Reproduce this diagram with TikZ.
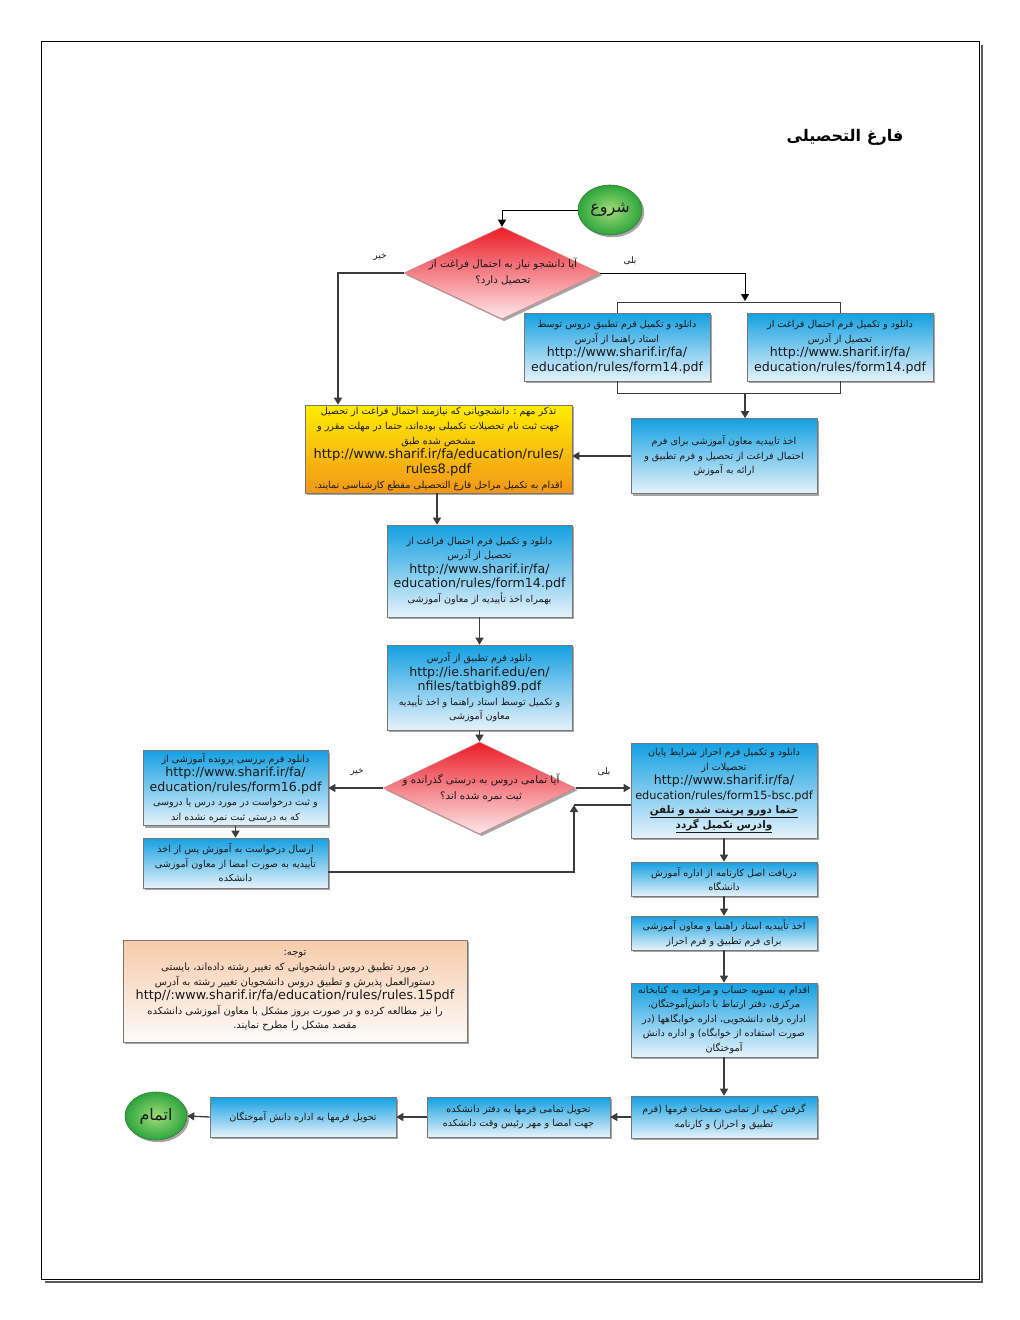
\documentclass[tikz,border=0pt]{standalone}
\usepackage{fontspec}
\setmainfont{DejaVu Sans}
\newfontfamily\farsifont[Script=Arabic]{DejaVu Sans}
\TeXXeTstate=1
\usetikzlibrary{shapes.geometric,arrows.meta,shadows}
\newcommand\rl[1]{{\farsifont\beginR #1\endR}}
\newcommand\lnk[1]{{\fontsize{12.6}{14.5}\selectfont #1}}
\newcommand\lnkb[1]{{\fontsize{13}{14.8}\selectfont #1}}
\definecolor{bluetop}{RGB}{20,160,225}
\definecolor{bluebot}{RGB}{230,242,251}
\definecolor{boxdraw}{RGB}{120,120,120}
\definecolor{redtop}{RGB}{236,28,40}
\definecolor{redbot}{RGB}{253,232,234}
\definecolor{yeltop}{RGB}{255,236,0}
\definecolor{yelbot}{RGB}{242,150,25}
\definecolor{peachtop}{RGB}{247,203,170}
\definecolor{peachbot}{RGB}{252,251,250}
\definecolor{greenin}{RGB}{160,220,120}
\definecolor{greenout}{RGB}{45,165,60}
\definecolor{arrowc}{RGB}{60,60,60}
\definecolor{textc}{RGB}{25,25,25}
\tikzset{
  shade/.style={drop shadow={shadow xshift=2.2pt,shadow yshift=-2.2pt,fill=black,opacity=0.35}},
  bluebox/.style={rectangle, draw=boxdraw, line width=0.6pt, top color=bluetop, bottom color=bluebot,
     inner sep=0pt, align=center, text=textc, font=\fontsize{9.6}{14.5}\selectfont, shade},
  yelbox/.style={bluebox, top color=yeltop, bottom color=yelbot, font=\fontsize{9.6}{14.8}\selectfont},
  notebox/.style={bluebox, top color=peachtop, bottom color=peachbot, font=\fontsize{10}{14.6}\selectfont},
  decision/.style={diamond, draw={rgb,255:red,205;green,130;blue,130}, line width=0.6pt,
     top color=redtop, bottom color=redbot, inner sep=0pt, shade},
  dtext/.style={align=center, text=textc, font=\fontsize{10.3}{15.5}\selectfont},
  terminal/.style={ellipse, draw={rgb,255:red,60;green,120;blue,60}, line width=0.6pt, inner sep=0pt,
     shading=radial, inner color=greenin, outer color=greenout, text=textc,
     font=\fontsize{16}{18}\selectfont, shade},
  lbl/.style={text=textc, font=\fontsize{9}{10}\selectfont},
  conn/.style={draw=arrowc, line width=1.3pt, -{Triangle[length=7pt,width=8pt]}},
  thinarr/.style={draw=black, line width=0.8pt, -{Triangle[length=7pt,width=8pt]}},
  thinline/.style={draw=arrowc, line width=0.8pt},
  plainline/.style={draw=arrowc, line width=1.3pt},
}
\begin{document}
\begin{tikzpicture}[x=1pt,y=-1pt]
\useasboundingbox (0,0) rectangle (1020,1320);
\fill[white] (0,0) rectangle (1020,1320);
% page frame
\draw[black!65, line width=2pt] (982,45) -- (982,1282) -- (45,1282);
\draw[black, line width=1pt] (41,41) rectangle (979,1279);

% title
\node[text=black, font=\fontsize{16}{20}\selectfont\bfseries] (title) at (845,137) {\rl{فارغ التحصیلی}};

% nodes
\node[terminal, minimum width=64pt, minimum height=50pt] (start) at (610,210) {\rl{شروع}};
\node[decision, minimum width=196pt, minimum height=92pt] (d1) at (502,273) {};
\node[dtext] (d1t) at (503,272) {\rl{آیا دانشجو نیاز به احتمال فراغت از}\\\rl{تحصیل دارد؟}};
\node[lbl] (no1) at (380,257) {\rl{خیر}};
\node[lbl] (yes1) at (630,261) {\rl{بلی}};

\node[bluebox, minimum width=186pt, minimum height=68pt] (b1) at (617,347)
  {\rl{دانلود و تکمیل فرم تطبیق دروس توسط}\\\rl{استاد راهنما از آدرس}\\\lnk{http://www.sharif.ir/fa/}\\\lnk{education/rules/form14.pdf}};
\node[bluebox, minimum width=186pt, minimum height=68pt] (b2) at (840,347)
  {\rl{دانلود و تکمیل فرم احتمال فراغت از}\\\rl{تحصیل از آدرس}\\\lnk{http://www.sharif.ir/fa/}\\\lnk{education/rules/form14.pdf}};

\node[bluebox, minimum width=186pt, minimum height=75pt] (b3) at (724,456)
  {\rl{اخذ تاییدیه معاون آموزشی برای فرم}\\\rl{احتمال فراغت از تحصیل و فرم تطبیق و}\\\rl{ارائه به آموزش}};

\node[yelbox, minimum width=267pt, minimum height=88pt] (yellow) at (438.5,449)
  {\rl{تذکر مهم : دانشجویانی که نیازمند احتمال فراغت از تحصیل}\\
   \rl{جهت ثبت نام تحصیلات تکمیلی بوده‌اند، حتما در مهلت مقرر و}\\
   \rl{مشخص شده طبق}\\
   \lnkb{http://www.sharif.ir/fa/education/rules/}\\
   \lnkb{rules8.pdf}\\
   \rl{اقدام به تکمیل مراحل فارغ التحصیلی مقطع کارشناسی نمایند.}};

\node[bluebox, minimum width=185pt, minimum height=92pt] (b4) at (479.5,571)
  {\rl{دانلود و تکمیل فرم احتمال فراغت از}\\\rl{تحصیل از آدرس}\\\lnk{http://www.sharif.ir/fa/}\\\lnk{education/rules/form14.pdf}\\\rl{بهمراه اخذ تأییدیه از معاون آموزشی}};

\node[bluebox, minimum width=185pt, minimum height=85pt] (b5) at (479.5,687.5)
  {\rl{دانلود فرم تطبیق از آدرس}\\\lnk{http://ie.sharif.edu/en/}\\\lnk{nfiles/tatbigh89.pdf}\\\rl{و تکمیل توسط استاد راهنما و اخذ تأییدیه}\\\rl{معاون آموزشی}};

\node[decision, minimum width=192pt, minimum height=92pt] (d2) at (479.5,788) {};
\node[dtext] (d2t) at (481,788) {\rl{آیا تمامی دروس به درستی گذرانده و}\\\rl{ثبت نمره شده اند؟}};
\node[lbl] (no2) at (357,772) {\rl{خیر}};
\node[lbl] (yes2) at (604,772) {\rl{بلی}};

\node[bluebox, minimum width=185pt, minimum height=75pt] (b6) at (235.5,788)
  {\rl{دانلود فرم بررسی پرونده آموزشی از}\\\lnk{http://www.sharif.ir/fa/}\\\lnk{education/rules/form16.pdf}\\\rl{و ثبت درخواست در مورد درس یا دروسی}\\\rl{که به درستی ثبت نمره نشده اند}};
\node[bluebox, minimum width=185pt, minimum height=50pt] (b8) at (235.5,863)
  {\rl{ارسال درخواست به آموزش پس از اخذ}\\\rl{تأییدیه به صورت امضا از معاون آموزشی}\\\rl{دانشکده}};

\node[bluebox, minimum width=186pt, minimum height=95pt] (b7) at (724,790.5)
  {\rl{دانلود و تکمیل فرم احراز شرایط پایان}\\\rl{تحصیلات از}\\\lnk{http://www.sharif.ir/fa/}\\{\fontsize{11.3}{14.5}\selectfont education/rules/form15-bsc.pdf}\\
   {\fontsize{10.4}{14.5}\selectfont\bfseries\underline{\rl{حتما دورو پرینت شده و تلفن}}}\\{\fontsize{10.4}{14.5}\selectfont\bfseries\underline{\rl{وادرس تکمیل گردد}}}};
\node[bluebox, minimum width=186pt, minimum height=34pt] (b9) at (724,879)
  {\rl{دریافت اصل کارنامه از اداره آموزش}\\\rl{دانشگاه}};
\node[bluebox, minimum width=186pt, minimum height=34pt] (b10) at (724,933)
  {\rl{اخذ تأییدیه استاد راهنما و معاون آموزشی}\\\rl{برای فرم تطبیق و فرم احراز}};
\node[bluebox, minimum width=186pt, minimum height=74pt] (b11) at (724,1020)
  {\rl{اقدام به تسویه حساب و مراجعه به کتابخانه}\\\rl{مرکزی، دفتر ارتباط با دانش‌آموختگان،}\\\rl{اداره رفاه دانشجویی، اداره خوابگاهها (در}\\\rl{صورت استفاده از خوابگاه) و اداره دانش}\\\rl{آموختگان}};
\node[bluebox, minimum width=186pt, minimum height=42pt] (b12) at (724,1117)
  {\rl{گرفتن کپی از تمامی صفحات فرمها (فرم}\\\rl{تطبیق و احراز) و کارنامه}};
\node[bluebox, minimum width=183pt, minimum height=40pt] (b13) at (518.5,1117)
  {\rl{تحویل تمامی فرمها به دفتر دانشکده}\\\rl{جهت امضا و مهر رئیس وقت دانشکده}};
\node[bluebox, minimum width=186pt, minimum height=40pt] (b14) at (303,1117)
  {\rl{تحویل فرمها به اداره دانش آموختگان}};
\node[terminal, minimum width=62pt, minimum height=48pt] (end) at (156,1116) {\rl{اتمام}};

\node[notebox, minimum width=344pt, minimum height=102pt] (note) at (295,991)
  {\rl{توجه:}\\
   \rl{در مورد تطبیق دروس دانشجویانی که تغییر رشته داده‌اند، بایستی}\\
   \rl{دستورالعمل پذیرش و تطبیق دروس دانشجویان تغییر رشته به آدرس}\\
   {\fontsize{12.8}{14.6}\selectfont http//:www.sharif.ir/fa/education/rules/rules.15pdf}\\
   \rl{را نیز مطالعه کرده و در صورت بروز مشکل با معاون آموزشی دانشکده}\\
   \rl{مقصد مشکل را مطرح نمایند.}};

% connectors
\draw[thinarr] (start.west) -| (d1.north);
\coordinate (nx) at (338,300);
\draw[conn] (d1.west) -| (nx |- yellow.north);
\coordinate (yx) at (745,301);
\draw[thinarr] (d1.east) -| (yx);
\coordinate (tb) at (745,302);
\draw[thinline] (b1.north) -- (b1.north |- tb) -- (b2.north |- tb) -- (b2.north);
\coordinate (bb) at (745,393);
\draw[thinline] (b1.south) -- (b1.south |- bb) -- (b2.south |- bb) -- (b2.south);
\draw[conn] (bb) -- (bb |- b3.north);
\draw[conn] (b3.west) -- (b3.west -| yellow.east);
\coordinate (yb) at (437,493);
\draw[conn] (yellow.south -| yb) -- (b4.north -| yb);
\draw[conn] (b4.south) -- (b5.north);
\draw[conn] (b5.south) -- (d2.north);
\draw[conn] (d2.west) -- (b6.east);
\draw[conn] (d2.east) -- (d2.east -| b7.west);
\draw[conn] (b6.south) -- (b8.north);
\coordinate (r0) at (328,872);
\coordinate (rt) at (574,805);
\draw[conn] (b8.east |- r0) -| (rt);
\draw[plainline] (rt) -- (rt -| b7.west);
\draw[conn] (b7.south) -- (b9.north);
\draw[conn] (b9.south) -- (b10.north);
\draw[conn] (b10.south) -- (b11.north);
\draw[conn] (b11.south) -- (b12.north);
\draw[conn] (b12.west) -- (b13.east);
\draw[conn] (b13.west) -- (b14.east);
\draw[conn] (b14.west) -- (end.east);
\end{tikzpicture}
\end{document}
